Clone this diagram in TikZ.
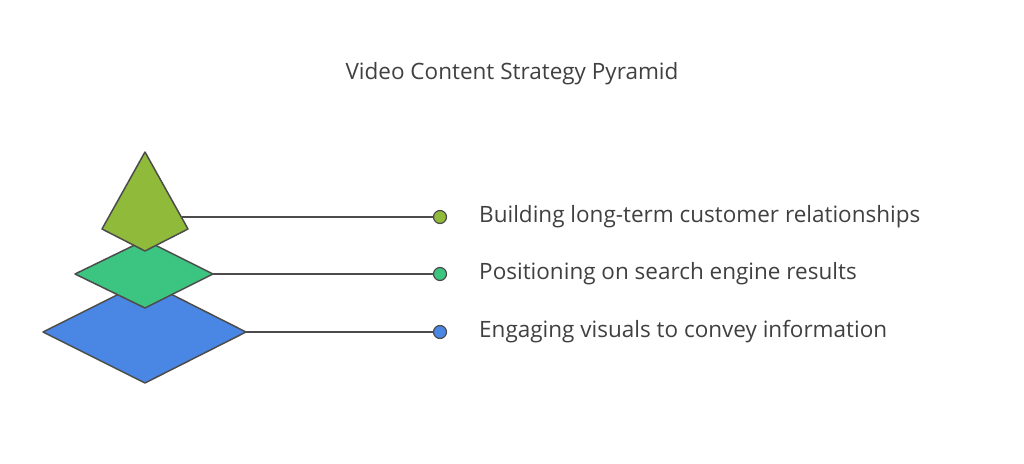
\documentclass[tikz,border=0pt]{standalone}
\usepackage{fontspec}
\setmainfont{Open Sans}
\begin{document}
\begin{tikzpicture}[x=1pt,y=-1pt,
  shp/.style={draw=black!70,line width=1.5pt,line join=round},
  conn/.style={draw=black!70,line width=1.3pt},
  dotc/.style={circle,inner sep=0pt,minimum size=13pt,draw=black!70,line width=1.2pt},
  lbl/.style={anchor=west,font=\fontsize{22.5}{26}\selectfont,text=black!75,inner sep=0pt}]
\useasboundingbox (0,0) rectangle (1024,463);
\definecolor{cA}{HTML}{8FBA3A}\definecolor{cB}{HTML}{3CC481}\definecolor{cC}{HTML}{4A86E4}
\node[font=\fontsize{22.5}{26}\selectfont,text=black!75] (title) at (512,74) {Video Content Strategy Pyramid};
\draw[shp,fill=cC] (145,281) -- (246,332) -- (145,383) -- (43,332) -- cycle;
\draw[shp,fill=cB] (145,240) -- (213,274) -- (145,308) -- (75,274) -- cycle;
\draw[shp,fill=cA] (145,152) -- (188,229) -- (145,251) -- (102,229) -- cycle;
\coordinate (a) at (182,217); \coordinate (b) at (213,274); \coordinate (c) at (246,332);
\node[dotc,fill=cA] (da) at (440,217) {};
\node[dotc,fill=cB] (db) at (440,274) {};
\node[dotc,fill=cC] (dc) at (440,332) {};
\draw[conn] (a) -- (da); \draw[conn] (b) -- (db); \draw[conn] (c) -- (dc);
\node[lbl] (la) at (479,217) {Building long-term customer relationships};
\node[lbl] (lb) at (479,274) {Positioning on search engine results};
\node[lbl] (lc) at (479,332) {Engaging visuals to convey information};
\end{tikzpicture}
\end{document}
